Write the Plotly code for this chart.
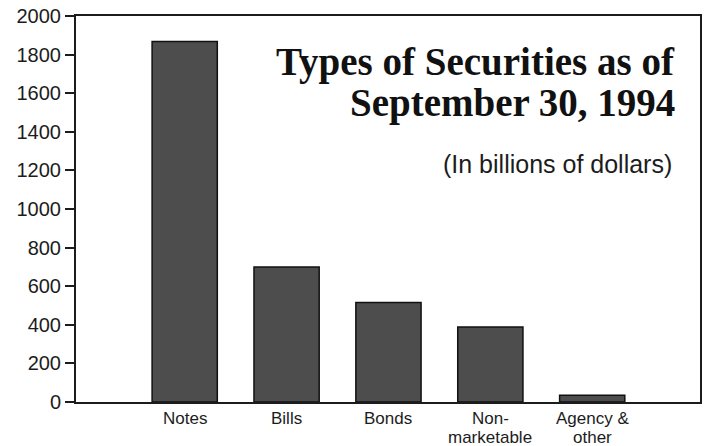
import plotly.graph_objects as go

# Federal debt securities by type, billions of dollars
categories = ["Notes", "Bills", "Bonds", "Nonmarketable", "Agency & other"]
values = [1868, 700, 515, 388, 35]
# Label lines drawn under each bar
label_lines = [["Notes"], ["Bills"], ["Bonds"], ["Non-", "marketable"], ["Agency &", "other"]]
y_ticks = list(range(0, 2001, 200))

title_lines = ["Types of Securities as of", "September 30, 1994"]
subtitle = "(In billions of dollars)"

INK = "#1c1c1c"
SANS = "Liberation Sans, Arial, sans-serif"
SERIF = "Liberation Serif, Times New Roman, serif"

fig = go.Figure(
    go.Bar(
        x=categories,
        y=values,
        width=0.64,
        marker=dict(color="#4d4d4d", line=dict(color="#111111", width=1.5)),
        hoverinfo="x+y",
    )
)

# Category labels (tight two-line spacing)
annotations = []
for cat, lines in zip(categories, label_lines):
    for i, line in enumerate(lines):
        annotations.append(dict(
            x=cat, y=0, xref="x", yref="y",
            text=line, showarrow=False,
            xanchor="center", yanchor="top",
            yshift=-5 - 19 * i,
            font=dict(family=SANS, size=17, color=INK),
        ))

# Title block in the upper right of the plot
for line, shift in zip(title_lines, [-22.0, -63.0]):
    annotations.append(dict(
        x=1, y=1, xref="paper", yref="paper",
        text=f"<b>{line}</b>", showarrow=False,
        xanchor="right", yanchor="top",
        xshift=-23, yshift=shift,
        font=dict(family=SERIF, size=39, color="#111111"),
    ))
annotations.append(dict(
    x=1, y=1, xref="paper", yref="paper",
    text=subtitle, showarrow=False,
    xanchor="right", yanchor="top",
    xshift=-26, yshift=-132,
    font=dict(family=SANS, size=25, color=INK),
))

fig.update_layout(
    width=707, height=446,
    margin=dict(l=76, r=5, t=15, b=44),
    paper_bgcolor="white", plot_bgcolor="white",
    showlegend=False,
    annotations=annotations,
    xaxis=dict(
        type="category",
        range=[-1.067, 5.058],
        showticklabels=False,
        ticks="",
        showgrid=False,
        zeroline=False,
        showline=True, linecolor=INK, linewidth=2, mirror=True,
    ),
    yaxis=dict(
        range=[0, 2000],
        tickvals=y_ticks,
        ticks="outside", ticklen=9, tickwidth=1.5, tickcolor=INK,
        tickfont=dict(family=SANS, size=20, color=INK),
        showgrid=False,
        zeroline=False,
        showline=True, linecolor=INK, linewidth=2, mirror=True,
    ),
)

fig.write_html("out.html")
